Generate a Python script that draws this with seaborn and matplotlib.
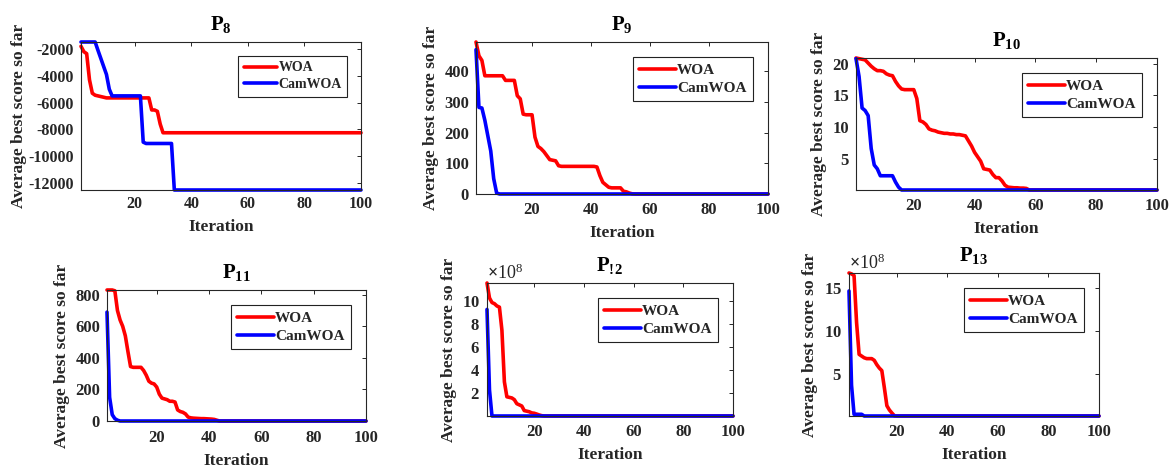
import numpy as np
import pandas as pd
import matplotlib
matplotlib.use("Agg")
import matplotlib.pyplot as plt
import seaborn as sns
from matplotlib.ticker import ScalarFormatter

# ---------------------------------------------------------------- data
ITERATIONS = np.arange(1, 101)
ALGORITHMS = ["WOA", "CamWOA"]

# P8
WOA_P8 = ([-1800, -2200, -2350, -4300, -5300, -5450, -5500, -5550, -5600, -5650]
          + [-5650] * 15
          + [-6550, -6550, -6650, -7600, -8250]
          + [-8250] * 70)
CAM_P8 = ([-1480] * 6
          + [-2100, -2700, -3300, -3900, -5000, -5500]
          + [-5500] * 10
          + [-8950]
          + [-9050] * 10
          + [-12520] * 67)

# P9
WOA_P9 = ([495, 450, 435, 385, 385, 385, 385, 385, 385, 385,
           370, 370, 370, 370, 320, 310, 260, 258, 258, 258,
           185, 155, 148, 138, 125, 112, 110, 108, 92, 90,
           90, 90, 90, 90, 90, 90, 90, 90, 90, 90,
           90, 88, 60, 38, 30, 22, 20, 20, 20, 20,
           9, 7, 3, 0.5]
          + [0] * 46)
CAM_P9 = [470, 282, 280, 240, 190, 140, 50, 3] + [0] * 92

# P10
WOA_P10 = ([20.9, 20.8, 20.7, 20.6, 20.1, 19.6, 19.2, 18.9, 18.9, 18.8,
            18.4, 18.2, 18.1, 17.2, 16.5, 16.0, 15.9, 15.9, 15.9, 15.9,
            14.5, 11.0, 10.8, 10.4, 9.7, 9.5, 9.4, 9.2, 9.1, 9.0,
            9.0, 8.9, 8.9, 8.8, 8.8, 8.7, 8.6, 7.8, 7.0, 6.0,
            5.3, 4.6, 3.4, 3.3, 3.2, 2.5, 2.0, 2.0, 1.5, 0.8,
            0.5, 0.45, 0.4, 0.4, 0.35, 0.35, 0.3, 0.05]
           + [0.05] * 42)
CAM_P10 = ([20.8, 18.0, 13.0, 12.6, 11.8, 6.6, 4.0, 3.4, 2.3, 2.3,
            2.3, 2.3, 2.3, 1.3, 0.5]
           + [0.05] * 85)

# P11
WOA_P11 = ([830, 830, 830, 825, 700, 640, 600, 540, 440, 345,
            340, 340, 340, 340, 320, 290, 252, 240, 235, 215,
            170, 145, 140, 135, 125, 125, 120, 70, 60, 55,
            45, 25, 20, 18, 17, 16, 15, 15, 14, 13,
            12, 10, 5]
           + [0] * 57)
CAM_P11 = [690, 150, 40, 15, 5] + [0] * 95

# P12 (x 1e8)
WOA_P12 = ([11.6, 10.3, 9.9, 9.8, 9.6, 9.5, 7.5, 3.0, 1.7, 1.65,
            1.6, 1.45, 1.1, 1.0, 0.9, 0.5, 0.45, 0.4, 0.3, 0.27,
            0.2, 0.12, 0.06]
           + [0.03] * 77)
CAM_P12 = [9.3, 2.3] + [0.03] * 98

# P13 (x 1e8)
WOA_P13 = ([16.8, 16.7, 16.5, 11.0, 7.3, 7.1, 6.9, 6.8, 6.8, 6.8,
            6.6, 6.1, 5.7, 5.4, 3.4, 1.3, 0.8, 0.45, 0.12]
           + [0.1] * 81)
CAM_P13 = [14.7, 3.7, 0.3, 0.3, 0.3, 0.3] + [0.1] * 94

TITLES = [r"$\mathbf{P}_{\mathbf{8}}$", r"$\mathbf{P}_{\mathbf{9}}$",
          r"$\mathbf{P}_{\mathbf{10}}$", r"$\mathbf{P}_{\mathbf{11}}$",
          r"$\mathbf{P}_{\mathbf{!\!2}}$", r"$\mathbf{P}_{\mathbf{13}}$"]
WOA_SERIES = [WOA_P8, WOA_P9, WOA_P10, WOA_P11, WOA_P12, WOA_P13]
CAM_SERIES = [CAM_P8, CAM_P9, CAM_P10, CAM_P11, CAM_P12, CAM_P13]
Y_TICKS = [[-12000, -10000, -8000, -6000, -4000, -2000],
           [0, 100, 200, 300, 400],
           [5, 10, 15, 20],
           [0, 200, 400, 600, 800],
           [2, 4, 6, 8, 10],
           [5, 10, 15]]
Y_SCALE = [1, 1, 1, 1, 1e8, 1e8]
X_TICKS = [20, 40, 60, 80, 100]

# ---------------------------------------------------------------- style
sns.set_style("white")
plt.rcParams.update({
    "font.family": ["Liberation Serif", "DejaVu Serif"],
    "font.weight": "bold",
    "axes.unicode_minus": False,
    "mathtext.fontset": "custom",
    "mathtext.rm": "Liberation Serif",
    "mathtext.bf": "Liberation Serif:bold",
    "axes.edgecolor": "#262626",
    "axes.linewidth": 0.8,
})

W, H = 1174, 469
fig = plt.figure(figsize=(W / 100, H / 100), dpi=100)

# axes boxes in pixel coordinates (left, top, right, bottom)
BOXES = [(81, 42, 361, 190), (476, 42, 768, 194), (856, 58, 1157, 190),
         (107, 290, 366, 421), (487, 283, 733, 416), (849, 273, 1099, 416)]
TICK_SIZE = [11.5, 12, 12, 12, 12, 12]
LEGEND_SIZE = [10, 11, 11, 11, 11, 11]
X_PAD = [4.5, 6, 6, 6.5, 6, 6]
Y_LABELPAD = [1, 4, 4, 4, 4, 4]

palette = {"WOA": "#ff0000", "CamWOA": "#0000ff"}
ink = "#262626"

for i in range(6):
    l, t, r, b = BOXES[i]
    ax = fig.add_axes([l / W, 1 - b / H, (r - l) / W, (b - t) / H])
    scale = Y_SCALE[i]
    woa = np.asarray(WOA_SERIES[i], dtype=float) * scale
    cam = np.asarray(CAM_SERIES[i], dtype=float) * scale
    df = pd.DataFrame({
        "Iteration": np.concatenate([ITERATIONS, ITERATIONS]),
        "score": np.concatenate([woa, cam]),
        "Algorithm": ["WOA"] * len(woa) + ["CamWOA"] * len(cam),
    })
    sns.lineplot(data=df, x="Iteration", y="score", hue="Algorithm",
                 hue_order=ALGORITHMS, palette=palette, linewidth=2.6,
                 estimator=None, ax=ax)
    for ln in ax.lines:
        ln.set_clip_on(False)

    allv = np.concatenate([woa, cam])
    ax.set_xlim(1, 100)
    ax.set_ylim(allv.min(), allv.max())
    ax.set_xticks(X_TICKS)
    ax.set_yticks([v * scale for v in Y_TICKS[i]])
    if scale != 1:
        fmt = ScalarFormatter(useMathText=True)
        fmt.set_powerlimits((8, 8))
        ax.yaxis.set_major_formatter(fmt)
        off = ax.yaxis.get_offset_text()
        off.set_fontsize(13)
        off.set_fontweight("normal")
        off.set_color(ink)

    ax.tick_params(direction="in", length=3, width=0.7, top=True, right=True,
                   labelsize=TICK_SIZE[i], colors=ink, labelcolor=ink)
    ax.tick_params(axis="x", pad=X_PAD[i])
    ax.tick_params(axis="y", pad=5)
    for lab in ax.get_xticklabels() + ax.get_yticklabels():
        lab.set_fontweight("bold")
    ax.set_xlabel("Iteration", fontsize=12.5, fontweight="bold", color=ink, labelpad=5)
    ax.set_ylabel("Average best score so far", fontsize=12.5, fontweight="bold",
                  color=ink, labelpad=Y_LABELPAD[i])
    ax.set_title(TITLES[i], fontsize=15, pad=8, color="black")

    handles, labels = ax.get_legend_handles_labels()
    leg = ax.legend(handles, labels, loc="upper right", frameon=True,
                    fancybox=False, framealpha=1, edgecolor="#222222",
                    handlelength=2.4, handletextpad=0.1, labelspacing=0.28,
                    borderpad=0.4, borderaxespad=1.0,
                    prop={"family": "Liberation Serif", "weight": "bold",
                          "size": LEGEND_SIZE[i]})
    leg.get_frame().set_linewidth(0.8)

fig.savefig("out.png", dpi=100)
